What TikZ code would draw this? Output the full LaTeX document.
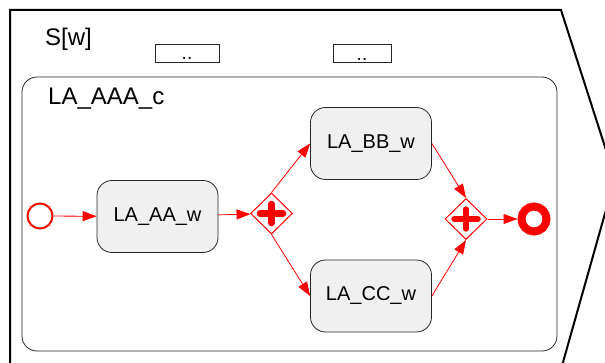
\documentclass[tikz,border=0pt]{standalone}
\usepackage{fontspec}
\setmainfont{Liberation Sans}
\usetikzlibrary{arrows.meta,shapes.geometric}

\begin{document}
\begin{tikzpicture}[x=1pt,y=-1pt,
  flow/.style={red, line width=0.8pt, -{Triangle[length=14pt,width=10pt]}},
  task/.style={draw=black!85, line width=0.8pt, fill=black!6, rounded corners=15pt,
    minimum width=121pt, minimum height=72pt, inner sep=0pt,
    font=\fontsize{20}{24}\selectfont},
  gateway/.style={diamond, draw=red, line width=1pt, fill=white,
    minimum width=42pt, minimum height=41pt, inner sep=0pt},
  plusbar/.style={red, line width=6.5pt, line cap=round},
  startev/.style={circle, draw=red, line width=2pt, minimum size=25pt, inner sep=0pt},
  endev/.style={circle, draw=red, line width=8pt, minimum size=25pt, inner sep=0pt},
  databox/.style={draw=black!85, line width=0.8pt, minimum width=64pt, minimum height=18pt,
    inner sep=0pt, text height=14pt, text depth=0pt, font=\fontsize{19}{19}\selectfont},
  title/.style={anchor=base west, inner sep=0pt, font=\fontsize{24}{27}\selectfont}
]
\useasboundingbox (0,0) rectangle (605,363);
\clip (0,0) rectangle (605,363);

% outer pool shape
\draw[line width=2pt, line join=miter] (10,380) -- (10,10) -- (561,10) -- (615,178) -- (558,380);
\node[title] (pool) at (45,46) {S[w]};

% data boxes
\node[databox] (d1) at (187,53) {..};
\node[databox, minimum width=58pt] (d2) at (362,53.5) {..};

% sub-process container
\draw[line width=0.8pt, black!85, rounded corners=15pt] (22,77) rectangle (557,351);
\node[title] (sub) at (48,105) {LA\_AAA\_c};

% events, tasks and gateways
\node[startev] (start) at (40,216) {};
\node[task] (aa) at (157.5,216.5) {LA\_AA\_w};
\node[gateway] (g1) at (271.5,213.5) {};
\node[task] (bb) at (371,143.5) {LA\_BB\_w};
\node[task] (cc) at (371,296) {LA\_CC\_w};
\node[gateway] (g2) at (466,219) {};
\node[endev] (end) at (534,219) {};

% parallel gateway markers
\foreach \g in {g1,g2}{
  \draw[plusbar] ([xshift=-11.5pt]\g.center) -- ([xshift=11.5pt]\g.center);
  \draw[plusbar] ([yshift=-9.5pt]\g.center) -- ([yshift=9.5pt]\g.center);
}

% sequence flows
\draw[flow] (start) -- (aa);
\draw[flow] (aa) -- (g1);
\draw[flow] (g1.north) -- (bb.west);
\draw[flow] (g1.south) -- (cc.west);
\draw[flow] (bb.east) -- (g2.north);
\draw[flow] (cc.east) -- (g2.south);
\draw[flow] (g2) -- (end);
\end{tikzpicture}
\end{document}
